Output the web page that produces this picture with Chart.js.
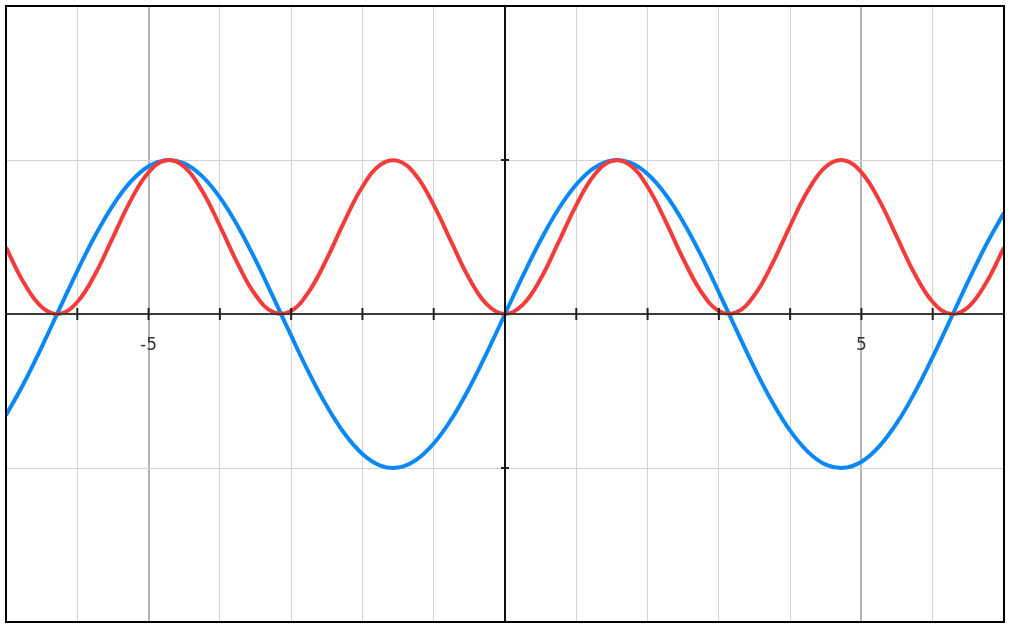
<!DOCTYPE html>
<html>
<head>
    <title>sin x and sin² x</title>
    <script src="https://cdn.jsdelivr.net/npm/chart.js"></script>
    <style>
        html, body { margin: 0; padding: 0; background: #fff; }
        #wrap { width: 1010px; height: 627px; }
    </style>
</head>
<body>
    <div id="wrap"><canvas id="waveChart"></canvas></div>
    <script>
        // x positions sampled along the curves
        const xValues = [-7, -6.75, -6.5, -6.25, -6, -5.75, -5.5, -5.25, -5, -4.75, -4.5, -4.25,
            -4, -3.75, -3.5, -3.25, -3, -2.75, -2.5, -2.25, -2, -1.75, -1.5, -1.25, -1, -0.75, -0.5, -0.25,
            0, 0.25, 0.5, 0.75, 1, 1.25, 1.5, 1.75, 2, 2.25, 2.5, 2.75, 3, 3.25, 3.5, 3.75,
            4, 4.25, 4.5, 4.75, 5, 5.25, 5.5, 5.75, 6, 6.25, 6.5, 6.75, 7];

        // blue curve
        const blueValues = [-0.657, -0.450, -0.215, 0.033, 0.279, 0.508, 0.706, 0.859, 0.959, 0.999, 0.978, 0.895,
            0.757, 0.572, 0.351, 0.108, -0.141, -0.382, -0.598, -0.778, -0.909, -0.984, -0.997, -0.949, -0.841, -0.682, -0.479, -0.247,
            0, 0.247, 0.479, 0.682, 0.841, 0.949, 0.997, 0.984, 0.909, 0.778, 0.598, 0.382, 0.141, -0.108, -0.351, -0.572,
            -0.757, -0.895, -0.978, -0.999, -0.959, -0.859, -0.706, -0.508, -0.279, -0.033, 0.215, 0.450, 0.657];

        // red curve
        const redValues = [0.432, 0.203, 0.046, 0.001, 0.078, 0.258, 0.498, 0.738, 0.920, 0.998, 0.956, 0.801,
            0.573, 0.327, 0.123, 0.012, 0.020, 0.146, 0.358, 0.605, 0.826, 0.968, 0.994, 0.901, 0.707, 0.465, 0.229, 0.061,
            0, 0.061, 0.229, 0.465, 0.707, 0.901, 0.994, 0.968, 0.826, 0.605, 0.358, 0.146, 0.020, 0.012, 0.123, 0.327,
            0.573, 0.801, 0.956, 0.998, 0.920, 0.738, 0.498, 0.258, 0.078, 0.001, 0.046, 0.203, 0.432];

        const xLabelValues = [-5, 5];
        const xTickValues = [-7, -6, -5, -4, -3, -2, -1, 1, 2, 3, 4, 5, 6, 7];
        const yTickValues = [-1, 1];

        const toPoints = (ys) => xValues.map((x, i) => ({ x: x, y: ys[i] }));

        // axes through the origin, ticks, labels and frame
        const axesPlugin = {
            id: 'axesPlugin',
            afterDatasetsDraw(chart) {
                const ctx = chart.ctx;
                const xs = chart.scales.x, ys = chart.scales.y;
                const a = chart.chartArea;
                const x0 = xs.getPixelForValue(0), y0 = ys.getPixelForValue(0);
                ctx.save();
                ctx.lineCap = 'butt';

                ctx.strokeStyle = '#3c3c3c';
                ctx.lineWidth = 2;
                ctx.beginPath();
                ctx.moveTo(a.left, y0); ctx.lineTo(a.right, y0);
                ctx.stroke();

                ctx.strokeStyle = '#111';
                ctx.beginPath();
                ctx.moveTo(x0, a.top); ctx.lineTo(x0, a.bottom);
                ctx.stroke();

                ctx.strokeStyle = '#222';
                xTickValues.forEach(v => {
                    const px = xs.getPixelForValue(v);
                    ctx.beginPath();
                    ctx.moveTo(px, y0 - 6); ctx.lineTo(px, y0 + 6);
                    ctx.stroke();
                });
                yTickValues.forEach(v => {
                    const py = ys.getPixelForValue(v);
                    ctx.beginPath();
                    ctx.moveTo(x0 - 4, py); ctx.lineTo(x0 + 4, py);
                    ctx.stroke();
                });

                ctx.fillStyle = '#333';
                ctx.font = '17px "DejaVu Sans", sans-serif';
                ctx.textAlign = 'center';
                ctx.textBaseline = 'middle';
                xLabelValues.forEach(v => {
                    ctx.fillText(String(v), xs.getPixelForValue(v), y0 + 32);
                });

                ctx.strokeStyle = '#000';
                ctx.lineWidth = 2;
                ctx.strokeRect(a.left, a.top, a.right - a.left, a.bottom - a.top);
                ctx.restore();
            }
        };

        const ctx = document.getElementById('waveChart').getContext('2d');
        new Chart(ctx, {
            type: 'scatter',
            data: {
                datasets: [{
                    label: 'red',
                    data: toPoints(redValues),
                    showLine: true,
                    borderColor: '#f23b3b',
                    borderWidth: 4,
                    pointRadius: 0,
                    tension: 0.4
                }, {
                    label: 'blue',
                    data: toPoints(blueValues),
                    showLine: true,
                    borderColor: '#0a88f5',
                    borderWidth: 4,
                    pointRadius: 0,
                    tension: 0.4
                }]
            },
            options: {
                responsive: true,
                maintainAspectRatio: false,
                animation: false,
                layout: { padding: { left: 6, top: 6, right: 6, bottom: 5 } },
                plugins: { legend: { display: false }, tooltip: { enabled: false } },
                scales: {
                    x: {
                        type: 'linear', min: -7, max: 7,
                        ticks: { display: false, stepSize: 1 },
                        border: { display: false },
                        grid: {
                            drawTicks: false,
                            color: c => (c.tick.value % 5 === 0 && c.tick.value !== 0) ? '#b4b4b4' : '#d2d2d2',
                            lineWidth: c => (c.tick.value % 5 === 0 && c.tick.value !== 0) ? 2 : 1
                        }
                    },
                    y: {
                        type: 'linear', min: -2, max: 2,
                        ticks: { display: false, stepSize: 1 },
                        border: { display: false },
                        grid: { drawTicks: false, color: '#d2d2d2', lineWidth: 1 }
                    }
                }
            },
            plugins: [axesPlugin]
        });
    </script>
</body>
</html>
